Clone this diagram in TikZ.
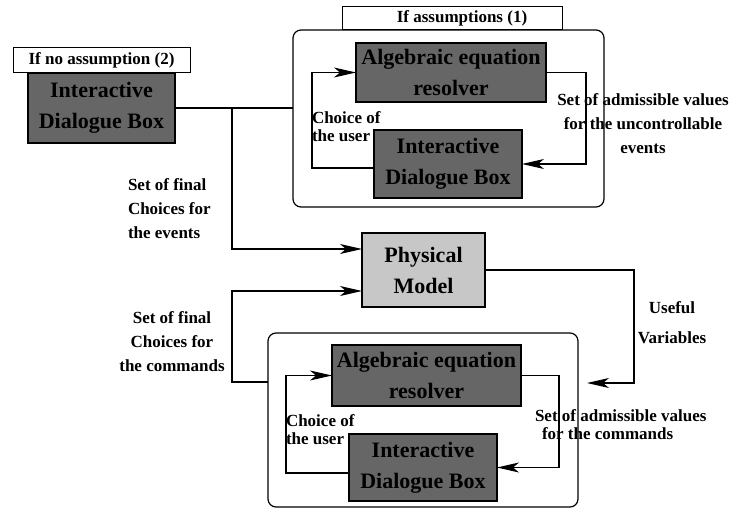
\documentclass[tikz,border=0pt]{standalone}
\usepackage{fontspec}
\setmainfont{Liberation Serif}
\usetikzlibrary{arrows.meta,calc}
\newcommand\myboxfont{\fontsize{22}{31}\selectfont\bfseries}
\newcommand\mylblfont{\fontsize{17}{24}\selectfont\bfseries}
\tikzset{
 every node/.style={inner sep=0pt, outer sep=0pt},
 darkbox/.style={draw=black, line width=1.2pt, fill=black!60, align=center, font=\myboxfont, anchor=north west},
 lightbox/.style={draw=black, line width=1.2pt, fill=black!22, align=center, font=\myboxfont, anchor=north west},
 tagbox/.style={draw=black, line width=1pt, fill=white, font=\mylblfont, anchor=north west},
 container/.style={draw=black, line width=1.2pt, rounded corners=8pt, anchor=north west},
 conn/.style={line width=1.2pt},
 arr/.style={conn, -{Stealth[length=22pt,width=10pt,inset=6pt]}},
 lbl/.style={font=\mylblfont},
 tightlbl/.style={font=\fontsize{17}{18}\selectfont\bfseries},
 widelbl/.style={font=\fontsize{17}{30}\selectfont\bfseries},
}
\begin{document}
\begin{tikzpicture}[x=1pt,y=-1pt]
\useasboundingbox (0,0) rectangle (731,508);
% containers
\node[container, minimum width=311pt, minimum height=177pt] (cont1) at (293,30) {};
\node[container, minimum width=310pt, minimum height=174pt] (cont2) at (268,333) {};
% tags
\node[tagbox, minimum width=220pt, minimum height=23pt] (tag1) at (342,7) {\hspace*{20pt}If assumptions (1)};
\node[tagbox, minimum width=177pt, minimum height=25pt] (tag2) at (13,48) {If no assumption (2)};
% boxes
\node[darkbox, minimum width=147pt, minimum height=70pt] (idb0) at (28,73) {Interactive\\Dialogue Box};
\node[darkbox, minimum width=190pt, minimum height=59pt] (alg1) at (356,43) {Algebraic equation\\resolver};
\node[darkbox, minimum width=148pt, minimum height=68pt] (idb1) at (374,130) {Interactive\\Dialogue Box};
\node[lightbox, minimum width=123pt, minimum height=74pt] (phys) at (362,233) {Physical\\Model};
\node[darkbox, minimum width=189pt, minimum height=61pt] (alg2) at (332,345) {Algebraic equation\\resolver};
\node[darkbox, minimum width=148pt, minimum height=67pt] (idb2) at (349,434) {Interactive\\Dialogue Box};
% labels
\node[lbl, align=left, anchor=west] (lev) at (128,209) {Set of final\\Choices for\\the events};
\node[lbl, align=center] (lcmd) at (172,342) {Set of final\\Choices for\\the commands};
\node[tightlbl, align=left, anchor=west] (ch1) at (312,127) {Choice of\\the user};
\node[tightlbl, align=left, anchor=west] (ch2) at (286,430) {Choice of\\the user};
\node[lbl, align=center] (adm1) at (643,124) {Set of admissible values\\for the uncontrollable\\events};
\node[tightlbl, align=left, anchor=west] (adm2) at (535,425) {Set of admissible values\\\hspace*{7pt}for the commands};
\node[widelbl, align=center] (useful) at (672,323) {Useful\\Variables};
% connectors
\coordinate (br) at (232,108);
\coordinate (uv) at (587,383);
\draw[conn] (idb0.east) -- (idb0.east -| cont1.west);
\draw[arr] (br) |- ([yshift=21pt]phys.west);
\draw[arr] (cont2.west |- 0,382) -- (232,382) |- ([yshift=-21pt]phys.west);
\draw[arr] ([yshift=-4pt]idb1.west) -- ++(-62,0) |- (alg1.west);
\draw[arr] (alg1.east) -- ++(40,0) |- (idb1.east);
\draw[arr] ([yshift=-5.5pt]idb2.west) -- ++(-63,0) |- (alg2.west);
\draw[arr] (alg2.east) -- ++(38,0) |- (idb2.east);
\draw[arr] (phys.east) -- ++(149,0) |- (uv);
\end{tikzpicture}
\end{document}
